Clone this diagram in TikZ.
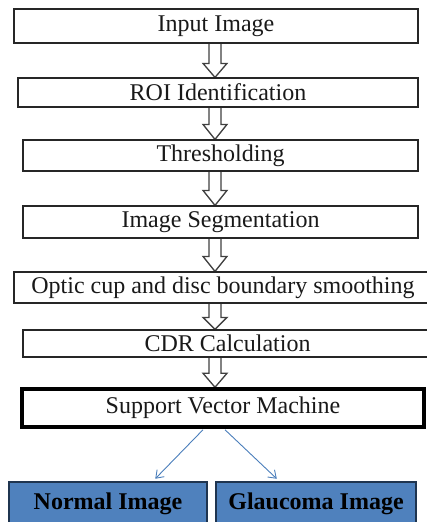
\documentclass[tikz,border=0pt]{standalone}
\usepackage{fontspec}
\setmainfont{Liberation Serif}
\usetikzlibrary{calc,arrows.meta}
\definecolor{boxblue}{HTML}{4F81BD}
\definecolor{boxnavy}{HTML}{1F3550}
\definecolor{arrowblue}{HTML}{4A7EBB}
\pgfdeclarelayer{bg}
\pgfsetlayers{bg,main}
\newcommand{\hollowarr}[3]{%
  \draw[harrow] ($(#1.south -| ax)+(-6,0)$) -- ($(#2.north -| ax)+(-6,-#3)$) -- ++(-6,0)
    -- (#2.north -| ax) -- ($(#2.north -| ax)+(12,-#3)$) -- ++(-6,0)
    -- ($(#1.south -| ax)+(6,0)$);}
\begin{document}
\begin{tikzpicture}[x=1pt,y=-1pt,
  stepbox/.style={draw=black!85, line width=1.2pt, fill=white, inner sep=0pt,
    font=\fontsize{24}{26}\selectfont, text=black!90},
  resbox/.style={draw=boxnavy, line width=2.5pt, fill=boxblue, inner sep=0pt,
    font=\fontsize{24}{26}\selectfont\bfseries, text=black},
  harrow/.style={draw=black!75, line width=1.3pt, fill=white, line join=miter},
  barrow/.style={draw=arrowblue, line width=0.9pt, -{Straight Barb[length=7pt,width=10pt]}}]
\useasboundingbox (0,0) rectangle (427,522);
\clip (0,0) rectangle (427,522);
\coordinate (ax) at (215,0);

\node[stepbox, minimum width=404, minimum height=34] (inp) at (216,26) {Input Image};
\node[stepbox, minimum width=400, minimum height=29] (roi) at (218,92.5) {ROI Identification};
\node[stepbox, minimum width=395, minimum height=31] (thr) at (220.5,155.5) {Thresholding};
\node[stepbox, minimum width=395, minimum height=32] (seg) at (220.5,222) {Image Segmentation};
\node[stepbox, minimum width=418, minimum height=31] (opt) at (223,287.5) {Optic cup and disc boundary smoothing};
\node[stepbox, minimum width=409, minimum height=27] (cdr) at (227.5,343.5) {CDR Calculation};
\node[stepbox, draw=black, line width=3.5pt, minimum width=402, minimum height=38] (svm) at (223,408) {Support Vector Machine};
\node[resbox, minimum width=198, minimum height=44] (nor) at (108,504) {Normal Image};
\node[resbox, minimum width=200, minimum height=44] (gla) at (316,504) {Glaucoma Image};

\begin{pgfonlayer}{bg}
\hollowarr{inp}{roi}{14}
\hollowarr{roi}{thr}{15}
\hollowarr{thr}{seg}{15}
\hollowarr{seg}{opt}{15}
\hollowarr{opt}{cdr}{12}
\hollowarr{cdr}{svm}{14}
\end{pgfonlayer}

\draw[barrow] ($(svm.south)+(-20,1)$) -- ($(nor.north east)+(-53,-2)$);
\draw[barrow] ($(svm.south)+(2,1)$) -- ($(gla.north west)+(62,-2)$);
\end{tikzpicture}
\end{document}
